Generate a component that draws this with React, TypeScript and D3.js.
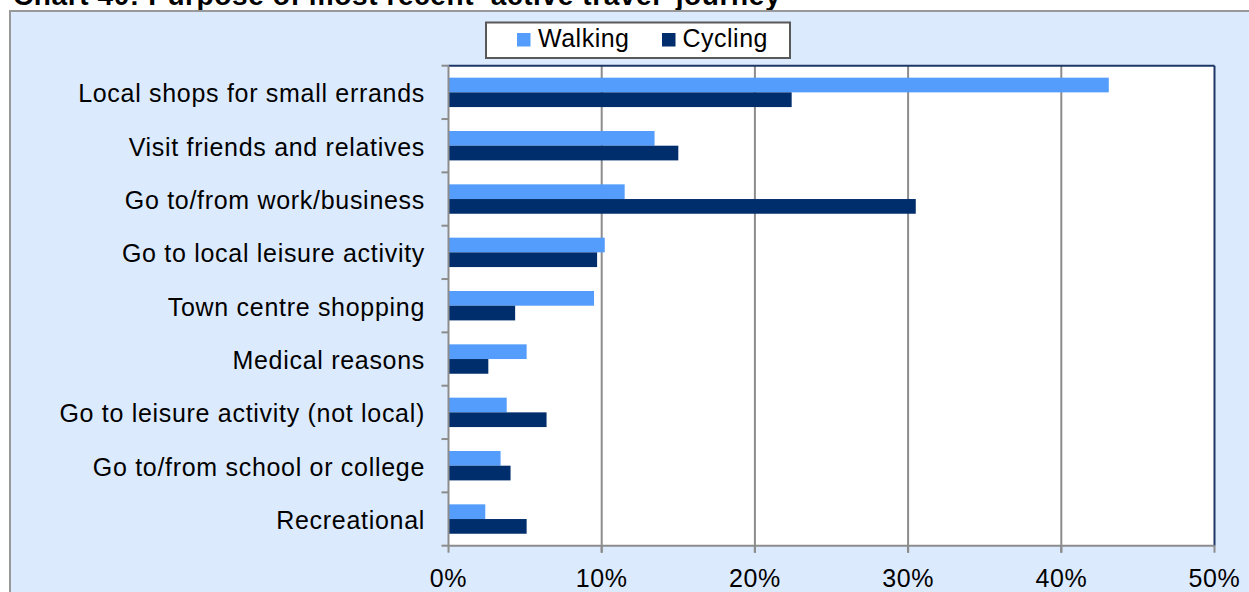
import React from "react";
import * as d3 from "d3";

const categories = [
  "Local shops for small errands",
  "Visit friends and relatives",
  "Go to/from work/business",
  "Go to local leisure activity",
  "Town centre shopping",
  "Medical reasons",
  "Go to leisure activity (not local)",
  "Go to/from school or college",
  "Recreational",
];
const walking = [43.1, 13.45, 11.5, 10.2, 9.5, 5.1, 3.8, 3.4, 2.4];
const cycling = [22.4, 15.0, 30.5, 9.7, 4.35, 2.6, 6.4, 4.05, 5.1];
const xTicks = [0, 10, 20, 30, 40, 50];
const seriesNames = ["Walking", "Cycling"];
const title = "Chart 40: Purpose of most recent \u2018active travel\u2019 journey";

const W = 1249;
const H = 592;
const plot = { left: 448.5, right: 1214.5, top: 65.7, bottom: 545.7 };
const colors = { walking: "#559dfc", cycling: "#002d6b" };
const font = "'Liberation Sans', Arial, sans-serif";

export default function App() {
  const x = d3.scaleLinear().domain([0, 50]).range([plot.left, plot.right]);
  const y = d3.scaleBand<string>().domain(categories).range([plot.top, plot.bottom]).padding(0);
  const bw = y.bandwidth();
  const barH = 14.7;

  return (
    <svg width={W} height={H} style={{ position: "absolute", left: 0, top: 0, display: "block" }}>
      <rect x={0} y={0} width={W} height={H} fill="#ffffff" />
      {/* title */}
      <text x={13} y={5} fontFamily={font} fontWeight="bold" fontSize={28} letterSpacing={0.6} fill="#000">
        {title}
      </text>
      {/* chart frame */}
      <rect x={10} y={11} width={1400} height={800} fill="#dceafd" stroke="#999" strokeWidth={2} />
      {/* plot area */}
      <rect x={plot.left} y={plot.top} width={plot.right - plot.left} height={plot.bottom - plot.top} fill="#ffffff" />
      {/* gridlines */}
      {xTicks.slice(1, -1).map((t) => (
        <line key={"g" + t} x1={x(t)} x2={x(t)} y1={plot.top} y2={plot.bottom + 7} stroke="#8c8c8c" strokeWidth={2} />
      ))}
      {/* bars */}
      {categories.map((c, i) => {
        const cy = (y(c) as number) + bw / 2;
        return (
          <g key={c}>
            <rect x={x(0)} y={cy - barH} width={x(walking[i]) - x(0)} height={barH} fill={colors.walking} />
            <rect x={x(0)} y={cy} width={x(cycling[i]) - x(0)} height={barH} fill={colors.cycling} />
          </g>
        );
      })}
      {/* plot border top/right */}
      <line x1={plot.left} x2={plot.right} y1={plot.top} y2={plot.top} stroke="#1c3766" strokeWidth={2} />
      <line x1={plot.right} x2={plot.right} y1={plot.top} y2={plot.bottom} stroke="#1c3766" strokeWidth={2} />
      {/* y axis */}
      <line x1={plot.left} x2={plot.left} y1={plot.top} y2={plot.bottom} stroke="#8c8c8c" strokeWidth={2} />
      {categories.map((c) => (
        <line key={"yt" + c} x1={plot.left - 7} x2={plot.left} y1={y(c) as number} y2={y(c) as number} stroke="#8c8c8c" strokeWidth={2} />
      ))}
      <line x1={plot.left - 7} x2={plot.left} y1={plot.bottom} y2={plot.bottom} stroke="#8c8c8c" strokeWidth={2} />
      {/* x axis */}
      <line x1={plot.left} x2={plot.right} y1={plot.bottom} y2={plot.bottom} stroke="#8c8c8c" strokeWidth={2} />
      {xTicks.map((t) => (
        <line key={"xt" + t} x1={x(t)} x2={x(t)} y1={plot.bottom} y2={plot.bottom + 7} stroke="#8c8c8c" strokeWidth={2} />
      ))}
      {/* category labels */}
      {categories.map((c) => (
        <text
          key={"l" + c}
          x={425}
          y={(y(c) as number) + bw / 2 + 9.8}
          textAnchor="end"
          fontFamily={font}
          fontSize={25}
          letterSpacing={0.7}
          fill="#000"
        >
          {c}
        </text>
      ))}
      {/* x tick labels */}
      {xTicks.map((t) => (
        <text
          key={"xl" + t}
          x={x(t)}
          y={586.7}
          textAnchor="middle"
          fontFamily={font}
          fontSize={25}
          letterSpacing={0.6}
          fill="#000"
        >
          {t + "%"}
        </text>
      ))}
      {/* legend */}
      <rect x={486} y={22.5} width={304} height={35.5} fill="#ffffff" stroke="#595959" strokeWidth={2} />
      <rect x={517} y={33} width={13.5} height={13.5} fill={colors.walking} />
      <text x={538} y={46.7} fontFamily={font} fontSize={25} letterSpacing={0.5} fill="#000">
        {seriesNames[0]}
      </text>
      <rect x={662} y={33} width={13.5} height={13.5} fill={colors.cycling} />
      <text x={682.5} y={46.7} fontFamily={font} fontSize={25} letterSpacing={0.5} fill="#000">
        {seriesNames[1]}
      </text>
    </svg>
  );
}
